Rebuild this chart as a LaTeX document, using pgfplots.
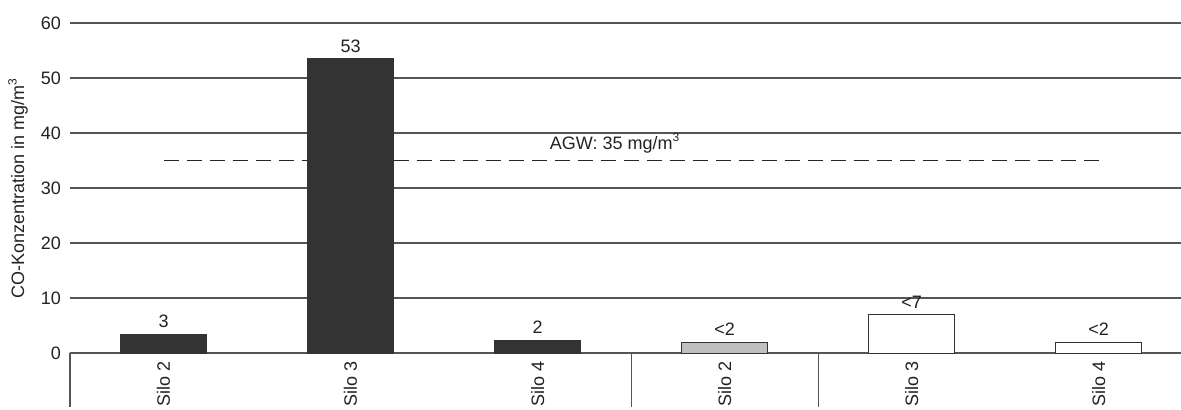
\documentclass[border=0pt]{standalone}
\usepackage{pgfplots}
\pgfplotsset{compat=1.18}
\usepackage{fontspec}
\setmainfont{Liberation Sans}
\definecolor{barDark}{HTML}{333333}
\definecolor{barGray}{HTML}{C0C0C0}
\definecolor{gridC}{HTML}{555555}
\definecolor{txt}{HTML}{222222}
\begin{document}
\begin{tikzpicture}
\begin{axis}[
  scale only axis,
  width=555.5pt, height=165pt,
  xmin=-0.5, xmax=5.44,
  ymin=0, ymax=60,
  ytick={0,10,...,60},
  xtick={0,1,2,3,4,5},
  xticklabels={Silo 2,Silo 3,Silo 4,Silo 2,Silo 3,Silo 4},
  xticklabel style={rotate=90, anchor=east, inner sep=1pt, xshift=-3pt},
  major tick length=0pt,
  axis x line*=bottom,
  axis y line*=left,
  y axis line style={draw=none},
  x axis line style={draw=gridC, line width=0.8pt},
  ymajorgrids,
  grid style={gridC, line width=0.7pt},
  tick label style={font=\fontsize{9}{10}\selectfont, text=txt},
  /pgf/number format/assume math mode=true,
  yticklabel style={xshift=-1pt},
  ylabel={CO-Konzentration in mg/m\textsuperscript{3}},
  ylabel style={at={(axis description cs:-0.0468,0.5)}, anchor=center, font=\fontsize{9}{10}\selectfont, text=txt},
  ybar, bar width=43pt, bar shift=0pt,
  nodes near coords,
  point meta=explicit symbolic,
  nodes near coords style={font=\fontsize{9}{10}\selectfont, text=txt, anchor=south, inner sep=3pt},
  clip=false,
]
\addplot[sharp plot, draw=black!85, line width=0.9pt, dash pattern=on 7.5pt off 4pt, nodes near coords={}] coordinates {(0,35) (5,35)};
\addplot[fill=barDark, draw=barDark, line width=0.5pt] coordinates {(0,3.4) [3] (1,53.5) [53] (2,2.3) [2]};
\addplot[fill=barGray, draw=barDark, line width=0.5pt] coordinates {(3,2) [<2]};
\addplot[fill=white, draw=barDark, line width=0.5pt] coordinates {(4,7) [<7] (5,2) [<2]};
\node[font=\fontsize{9}{10}\selectfont, text=txt] at (axis cs:2.414,38.2) {AGW: 35 mg/m\textsuperscript{3}};
\draw[gridC, line width=0.6pt] (axis cs:-0.5,0) -- ([yshift=-27pt]axis cs:-0.5,0);
\draw[gridC, line width=0.6pt] (axis cs:2.5,0) -- ([yshift=-27pt]axis cs:2.5,0);
\draw[gridC, line width=0.6pt] (axis cs:3.5,0) -- ([yshift=-27pt]axis cs:3.5,0);
\end{axis}
\pgfresetboundingbox
\path (-35pt,-28pt) rectangle (555.5pt,176.5pt);
\end{tikzpicture}
\end{document}
